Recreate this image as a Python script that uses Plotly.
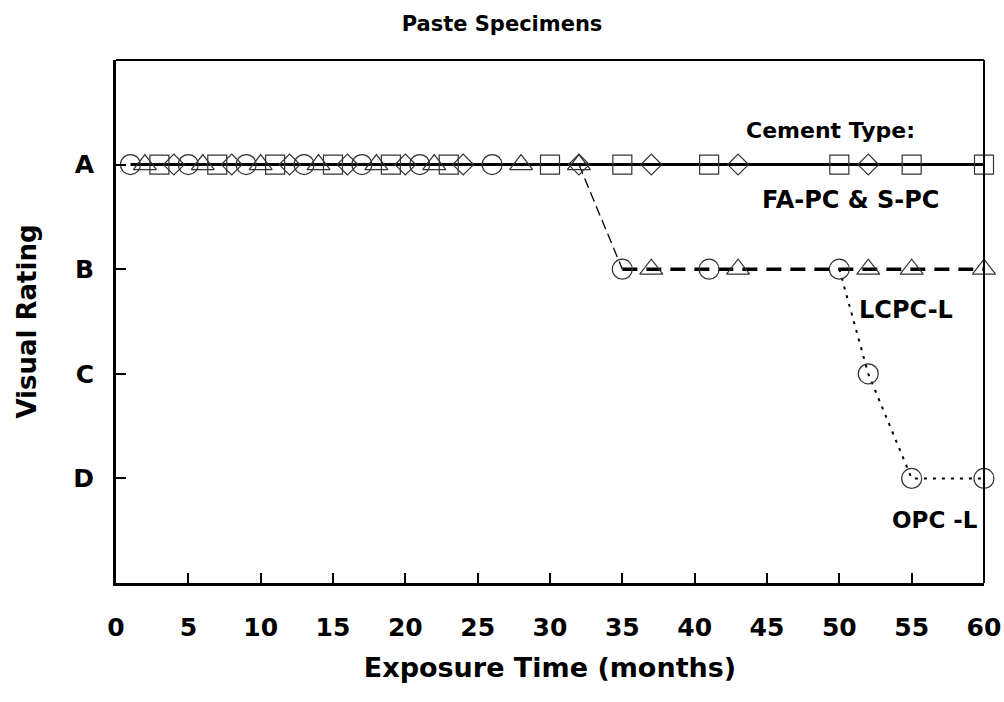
import plotly.graph_objects as go

# ---- data ----
circle_x = [1, 5, 9, 13, 17, 21, 26, 35, 41, 50, 52, 55, 60]
circle_y = [4, 4, 4, 4, 4, 4, 4, 3, 3, 3, 2, 1, 1]
triangle_x = [2, 6, 10, 14, 18, 22, 28, 32, 37, 43, 52, 55, 60]
triangle_y = [4, 4, 4, 4, 4, 4, 4, 4, 3, 3, 3, 3, 3]
square_x = [3, 7, 11, 15, 19, 23, 30, 35, 41, 50, 55, 60]
square_y = [4, 4, 4, 4, 4, 4, 4, 4, 4, 4, 4, 4]
diamond_x = [4, 8, 12, 16, 20, 24, 32, 37, 43, 52]
diamond_y = [4, 4, 4, 4, 4, 4, 4, 4, 4, 4]

fa_line_x = [1, 60]
fa_line_y = [4, 4]
lcpc_drop_x = [32, 35]
lcpc_drop_y = [4, 3]
lcpc_line_x = [35, 60]
lcpc_line_y = [3, 3]
opc_line_x = [50, 52, 55, 60]
opc_line_y = [3, 2, 1, 1]

y_tickvals = [1, 2, 3, 4]
y_ticktext = ["D", "C", "B", "A"]
x_tickvals = list(range(0, 61, 5))

FONT = "DejaVu Sans"
fig = go.Figure()

# lines
fig.add_trace(go.Scatter(x=fa_line_x, y=fa_line_y, mode="lines",
                         line=dict(color="black", width=3), cliponaxis=False, showlegend=False))
fig.add_trace(go.Scatter(x=lcpc_drop_x, y=lcpc_drop_y, mode="lines",
                         line=dict(color="black", width=1.3, dash="10px,5px"), showlegend=False))
fig.add_trace(go.Scatter(x=lcpc_line_x, y=lcpc_line_y, mode="lines",
                         line=dict(color="black", width=3.5, dash="15px,9px"), cliponaxis=False, showlegend=False))
fig.add_trace(go.Scatter(x=opc_line_x, y=opc_line_y, mode="lines",
                         line=dict(color="black", width=2, dash="3px,6px"), cliponaxis=False, showlegend=False))

mk_line = dict(color="#333333", width=1.2)
fig.add_trace(go.Scatter(x=circle_x, y=circle_y, mode="markers", cliponaxis=False, showlegend=False,
                         marker=dict(symbol="circle-open", size=20, line=mk_line, color="#333333")))
fig.add_trace(go.Scatter(x=triangle_x, y=triangle_y, mode="markers", cliponaxis=False, showlegend=False,
                         marker=dict(symbol="triangle-up-open", size=20, line=mk_line, color="#333333")))
fig.add_trace(go.Scatter(x=square_x, y=square_y, mode="markers", cliponaxis=False, showlegend=False,
                         marker=dict(symbol="square-open", size=19, line=mk_line, color="#333333")))
fig.add_trace(go.Scatter(x=diamond_x, y=diamond_y, mode="markers", cliponaxis=False, showlegend=False,
                         marker=dict(symbol="diamond-open", size=16, line=mk_line, color="#333333")))

def afont(s):
    return dict(family=FONT, size=s, color="black", weight="bold")

fig.add_annotation(x=55.4, y=4.33, text="<b>Cement Type:</b>", showarrow=False, xanchor="right",
                   font=afont(22))
fig.add_annotation(x=50.8, y=3.66, text="<b>FA-PC &amp; S-PC</b>", showarrow=False, font=afont(24))
fig.add_annotation(x=54.6, y=2.61, text="<b>LCPC-L</b>", showarrow=False, font=afont(24))
fig.add_annotation(x=56.6, y=0.60, text="<b>OPC -L</b>", showarrow=False, font=afont(23))

# frame top/right (thinner)
fig.add_shape(type="line", xref="paper", yref="paper", x0=0, x1=1, y0=1, y1=1,
              line=dict(color="black", width=2))
fig.add_shape(type="line", xref="paper", yref="paper", x0=1, x1=1, y0=0, y1=1,
              line=dict(color="black", width=2))

fig.update_layout(
    width=1004, height=702,
    margin=dict(l=116, r=20, t=60, b=119),
    paper_bgcolor="white", plot_bgcolor="white",
    title=dict(text="<b>Paste Specimens</b>", x=0.5, xanchor="center", y=0.967, yanchor="middle",
               font=dict(family=FONT, size=21, color="black")),
    xaxis=dict(range=[0, 60], tickvals=x_tickvals, ticks="inside", ticklen=10, tickwidth=2,
               tickcolor="black", showline=True, linecolor="black", linewidth=3, automargin=False,
               showgrid=False, zeroline=False, ticklabelstandoff=20,
               tickfont=dict(family=FONT, size=25, color="black", weight="bold"),
               title=dict(text="<b>Exposure Time (months)</b>", standoff=18,
                          font=dict(family=FONT, size=27, color="black"))),
    yaxis=dict(range=[0, 5], tickvals=y_tickvals, ticktext=y_ticktext, ticks="inside", ticklen=10,
               tickwidth=2, tickcolor="black", showline=True, linecolor="black", linewidth=3,
               automargin=False,
               showgrid=False, zeroline=False, ticklabelstandoff=14,
               tickfont=dict(family=FONT, size=25, color="black", weight="bold"),
               title=dict(text="<b>Visual Rating</b>", standoff=30,
                          font=dict(family=FONT, size=26, color="black"))),
)

fig.write_html("out.html")
